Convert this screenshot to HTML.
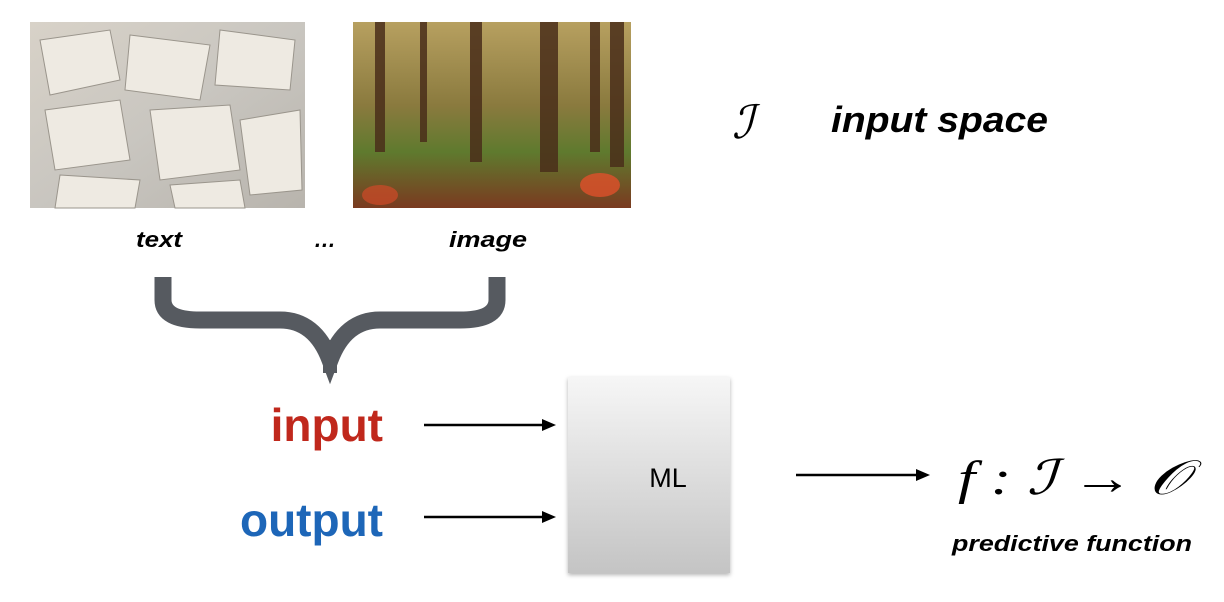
<!DOCTYPE html>
<html><head><style>
html,body{margin:0;padding:0;background:#fff;width:1224px;height:602px;overflow:hidden}
svg{display:block}
</style></head><body>
<svg width="1224" height="602" viewBox="0 0 1224 602" xmlns="http://www.w3.org/2000/svg">
<defs>
<linearGradient id="bk" x1="0" y1="0" x2="1" y2="1">
<stop offset="0" stop-color="#d8d2c8"/><stop offset="0.5" stop-color="#c9c6c0"/><stop offset="1" stop-color="#b8b4ad"/></linearGradient>
<linearGradient id="fr" x1="0" y1="0" x2="0" y2="1">
<stop offset="0" stop-color="#b7a060"/><stop offset="0.45" stop-color="#8a7a3e"/><stop offset="0.7" stop-color="#5f7a2e"/><stop offset="1" stop-color="#7a3a20"/></linearGradient>
<linearGradient id="ml" x1="0" y1="0" x2="0" y2="1">
<stop offset="0" stop-color="#f6f6f6"/><stop offset="1" stop-color="#c4c4c4"/></linearGradient>
<filter id="sh" x="-10%" y="-10%" width="130%" height="130%"><feDropShadow dx="0" dy="2" stdDeviation="2" flood-opacity="0.3"/></filter>
</defs>
<rect x="30" y="22" width="275" height="186" fill="url(#bk)"/>
<g fill="#eeeae2" stroke="#9a958c" stroke-width="1">
<polygon points="40,40 110,30 120,80 50,95"/>
<polygon points="130,35 210,45 200,100 125,90"/>
<polygon points="220,30 295,40 290,90 215,85"/>
<polygon points="45,110 120,100 130,160 55,170"/>
<polygon points="150,110 230,105 240,170 160,180"/>
<polygon points="240,120 300,110 302,190 250,195"/>
<polygon points="60,175 140,180 135,208 55,208"/>
<polygon points="170,185 240,180 245,208 175,208"/>
</g>
<rect x="353" y="22" width="278" height="186" fill="url(#fr)"/>
<g fill="#4a2e1a" opacity="0.85">
<rect x="375" y="22" width="10" height="130"/><rect x="420" y="22" width="7" height="120"/>
<rect x="470" y="22" width="12" height="140"/><rect x="540" y="22" width="18" height="150"/>
<rect x="590" y="22" width="10" height="130"/><rect x="610" y="22" width="14" height="145"/>
</g>
<ellipse cx="600" cy="185" rx="20" ry="12" fill="#e0502a" opacity="0.8"/>
<ellipse cx="380" cy="195" rx="18" ry="10" fill="#d04a28" opacity="0.7"/>
<g font-family="Liberation Sans, sans-serif" font-style="italic" font-weight="bold" fill="#000">
<text x="136" y="247" font-size="22" textLength="46" lengthAdjust="spacingAndGlyphs">text</text>
<text x="325" y="247" font-size="22" text-anchor="middle">…</text>
<text x="449" y="247" font-size="22" textLength="78" lengthAdjust="spacingAndGlyphs">image</text>
<text x="831" y="132" font-size="36" textLength="217" lengthAdjust="spacingAndGlyphs">input space</text>
<text x="952" y="551" font-size="22" textLength="240" lengthAdjust="spacingAndGlyphs">predictive function</text>
</g>
<text x="732" y="138" font-family="Liberation Serif, serif" font-style="italic" font-size="46">ℐ</text>
<path d="M163,277 V300 Q163,320 200,320 H280 Q315,320 330,360 Q345,320 380,320 H460 Q497,320 497,300 V277" fill="none" stroke="#565a60" stroke-width="17"/>
<rect x="323" y="340" width="14" height="33" fill="#565a60"/>
<g font-family="Liberation Sans, sans-serif" font-weight="bold" font-size="46">
<text x="383" y="441" text-anchor="end" fill="#c0281c">input</text>
<text x="383" y="536" text-anchor="end" fill="#1d66b8">output</text>
</g>
<g stroke="#000" stroke-width="2.5">
<line x1="424" y1="425" x2="545" y2="425"/><line x1="424" y1="517" x2="545" y2="517"/>
<line x1="796" y1="475" x2="920" y2="475"/>
</g>
<g fill="#000">
<polygon points="556,425 542,419 542,431"/><polygon points="556,517 542,511 542,523"/>
<polygon points="930,475 916,469 916,481"/>
</g>
<rect x="568" y="377" width="162" height="196" fill="url(#ml)" filter="url(#sh)"/>
<text x="668" y="487" font-family="Liberation Sans, sans-serif" font-size="27" text-anchor="middle">ML</text>
<text x="958" y="494" font-family="Liberation Serif, serif" font-style="italic" font-size="48" textLength="230" lengthAdjust="spacingAndGlyphs">f : ℐ → 𝒪</text>
</svg>
</body></html>
